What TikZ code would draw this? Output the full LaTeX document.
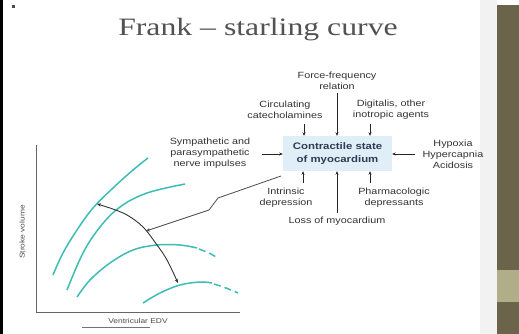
\documentclass[tikz,border=0pt]{standalone}
\usepackage{fontspec}
\setmainfont{Liberation Sans}
\newfontfamily\titlefont[FakeStretch=1.27]{Liberation Serif}
\newfontfamily\labfont[FakeStretch=1.2]{Liberation Sans}
\usetikzlibrary{arrows.meta}
\definecolor{teal1}{HTML}{3DBDB5}
\definecolor{labtext}{HTML}{333333}
\definecolor{boxfill}{HTML}{E0EEF7}
\definecolor{boxtext}{HTML}{2E3B55}
\definecolor{olive}{HTML}{6B634A}
\definecolor{olivelight}{HTML}{B0AD88}
\tikzset{
  lab/.style={font=\labfont\fontsize{9}{10.8}\selectfont, text=labtext, align=center, inner sep=0pt},
  arr/.style={draw=black!85, line width=0.7pt, -{Stealth[length=3.5pt,width=3pt]}},
  fscurve/.style={draw=teal1, line width=1.5pt},
  ctr/.style={fill=boxfill, minimum width=109pt, minimum height=35pt, inner sep=0pt,
     font=\labfont\bfseries\fontsize{9.5}{12.5}\selectfont, text=boxtext, align=center},
  axlab/.style={font=\labfont\fontsize{7}{8}\selectfont, text=black!70, inner sep=0pt}
}
\begin{document}
\begin{tikzpicture}[x=1pt,y=-1pt]
\useasboundingbox (0,0) rectangle (519,334);
% background elements
\fill[white] (0,0) rectangle (519,334);
\fill[black!5] (480,0) rectangle (497,334);
\fill[olive] (497,5) rectangle (519,334);
\fill[olivelight] (497,270) rectangle (519,302);
\fill[black] (0,0) rectangle (2.5,334);
\fill[black!70] (12,5) rectangle (15,8);
% title
\node[font=\titlefont\fontsize{25}{30}\selectfont, text=black!68, inner sep=0pt] (title) at (258,30) {Frank – starling curve};
% central box
\node[ctr] (box) at (337.5,153.5) {Contractile state\\of myocardium};
% labels
\node[lab] (force) at (337,80.5) {Force-frequency\\relation};
\node[lab] (circ) at (285,109.5) {Circulating\\catecholamines};
\node[lab] (digi) at (391,109.5) {Digitalis, other\\inotropic agents};
\node[lab] (symp) at (210,153) {Sympathetic and\\parasympathetic\\nerve impulses};
\node[lab] (hyp) at (453,154) {Hypoxia\\Hypercapnia\\Acidosis};
\node[lab] (intr) at (286,197.5) {Intrinsic\\depression};
\node[lab] (pharm) at (394,197.5) {Pharmacologic\\depressants};
\node[lab] (loss) at (337,221) {Loss of myocardium};
% arrow start coordinates
\coordinate (sc) at (304,124);
\coordinate (sf) at (337,93);
\coordinate (sd) at (370,124);
\coordinate (ss) at (262,154);
\coordinate (sh) at (415,154);
\coordinate (si) at (303,183);
\coordinate (sl) at (337,213);
\coordinate (sp) at (370,183);
\draw[arr] (sc) -- (sc |- box.north);
\draw[arr] (sf) -- (sf |- box.north);
\draw[arr] (sd) -- (sd |- box.north);
\draw[arr] (ss) -- (ss -| box.west);
\draw[arr] (sh) -- (sh -| box.east);
\draw[arr] (si) -- (si |- box.south);
\draw[arr] (sl) -- (sl |- box.south);
\draw[arr] (sp) -- (sp |- box.south);
% graph axes
\coordinate (ytop) at (36,145);
\coordinate (orig) at (36,312);
\coordinate (xend) at (240,312);
\draw[black!60, line width=0.8pt] (ytop) -- (orig) -- (xend);
\node[axlab, rotate=90] (ylab) at (22,232) {Stroke volume};
\node[axlab] (xlab) at (138,321) {Ventricular EDV};
\draw[black!55, line width=1pt] (82,327) -- (150,327);
% curves
\draw[fscurve] plot[smooth, tension=0.6] coordinates {(53,275) (63,253) (77,230) (93,208) (113,188) (133,170) (148,158)};
\draw[fscurve] plot[smooth, tension=0.6] coordinates {(67,290) (83,253) (100,227) (120,207) (147,193) (185,184)};
\draw[fscurve] plot[smooth, tension=0.6] coordinates {(77,297) (90,280) (110,263) (133,250) (157,245) (180,245) (197,248)};
\draw[fscurve, dash pattern=on 7pt off 4pt] plot[smooth] coordinates {(199,249) (209,253) (218,258)};
\draw[fscurve] plot[smooth, tension=0.6] coordinates {(143,303) (160,293) (180,285) (200,282) (212,283)};
\draw[fscurve, dash pattern=on 7pt off 4pt] plot[smooth] coordinates {(214,284) (226,288) (238,293)};
% shift arrow
\coordinate (aS) at (97,204);
\coordinate (aE) at (178,283);
\draw[draw=black!80, line width=0.9pt, {Stealth[length=4pt,width=3.5pt]}-{Stealth[length=4pt,width=3.5pt]}]
  plot[smooth, tension=0.6] coordinates {(aS) (110,208) (127,215) (143,227) (157,245) (167,260) (aE)};
% lightning arrow
\coordinate (lA) at (281,176);
\coordinate (lB) at (218,198);
\coordinate (lC) at (209,210);
\coordinate (lD) at (146,231);
\draw[draw=black!70, line width=0.8pt, -{Stealth[length=4pt,width=3.5pt]}] (lA) -- (lB) -- (lC) -- (lD);
\end{tikzpicture}
\end{document}
